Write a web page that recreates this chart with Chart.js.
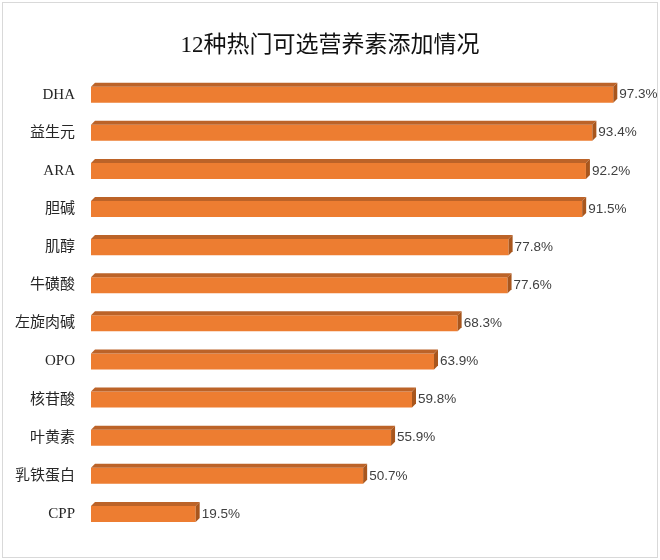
<!DOCTYPE html>
<html>
<head>
<meta charset="utf-8">
<script src="https://cdn.jsdelivr.net/npm/chart.js@4.4.1/dist/chart.umd.min.js"></script>
<style>
  body { margin: 0; background: #fff; }
  #wrap { width: 660px; height: 560px; }
</style>
</head>
<body>
<div id="wrap"><canvas id="ar" width="660" height="560"></canvas></div>
<script>
const categories = ['DHA', '益生元', 'ARA', '胆碱', '肌醇', '牛磺酸', '左旋肉碱', 'OPO', '核苷酸', '叶黄素', '乳铁蛋白', 'CPP'];
const values = [97.3, 93.4, 92.2, 91.5, 77.8, 77.6, 68.3, 63.9, 59.8, 55.9, 50.7, 19.5];
const titleText = '12种热门可选营养素添加情况';

const DEPTH = 4;

// fake 3d: top + right faces drawn on top of the flat bars
const bar3d = {
    id: 'bar3d',
    beforeDraw(chart) {
        const c = chart.ctx;
        c.save();
        c.fillStyle = '#fff';
        c.fillRect(0, 0, chart.width, chart.height);
        c.strokeStyle = '#d9d9d9';
        c.lineWidth = 1;
        c.strokeRect(2.5, 2.5, chart.width - 5, chart.height - 5);
        c.restore();
    },
    afterDatasetsDraw(chart) {
        const c = chart.ctx;
        const meta = chart.getDatasetMeta(0);
        c.save();
        meta.data.forEach((el, i) => {
            const p = el.getProps(['x', 'y', 'base', 'height'], true);
            const top = p.y - p.height / 2;
            const bot = p.y + p.height / 2;
            // top face
            c.fillStyle = '#BC6328';
            c.beginPath();
            c.moveTo(p.base, top);
            c.lineTo(p.base + DEPTH, top - DEPTH);
            c.lineTo(p.x + DEPTH, top - DEPTH);
            c.lineTo(p.x, top);
            c.closePath();
            c.fill();
            // right face
            c.fillStyle = '#A8561D';
            c.beginPath();
            c.moveTo(p.x, top);
            c.lineTo(p.x + DEPTH, top - DEPTH);
            c.lineTo(p.x + DEPTH, bot - DEPTH);
            c.lineTo(p.x, bot);
            c.closePath();
            c.fill();
            // value label
            c.fillStyle = '#404040';
            c.font = '13.5px "Liberation Sans", Arial, sans-serif';
            c.textAlign = 'left';
            c.textBaseline = 'middle';
            c.fillText(values[i].toFixed(1) + '%', p.x + DEPTH + 2, p.y);
        });
        c.restore();
    }
};

const myChart = new Chart(document.getElementById('ar').getContext('2d'), {
    type: 'bar',
    data: {
        labels: categories,
        datasets: [{
            data: values,
            backgroundColor: '#ED7D31',
            borderWidth: 0,
            categoryPercentage: 1,
            barPercentage: 0.42
        }]
    },
    options: {
        indexAxis: 'y',
        responsive: false,
        animation: false,
        layout: { padding: { left: 0, right: 0, top: 0, bottom: 27 } },
        plugins: {
            legend: { display: false },
            tooltip: { enabled: false },
            title: {
                display: true,
                text: titleText,
                color: '#111',
                font: { family: '"Liberation Serif", "Noto Sans CJK SC", serif', size: 23, weight: 'normal', lineHeight: 1.2 },
                padding: { top: 32, bottom: 16 }
            }
        },
        scales: {
            x: {
                display: false,
                min: 0,
                max: 106
            },
            y: {
                grid: { display: false, drawTicks: false },
                border: { display: false },
                afterFit(scale) { scale.width = 91; },
                ticks: {
                    padding: 16,
                    color: '#262626',
                    font: { family: '"Liberation Serif", "Noto Sans CJK SC", serif', size: 15 }
                }
            }
        }
    },
    plugins: [bar3d]
});

myChart.update();
</script>
</body>
</html>
